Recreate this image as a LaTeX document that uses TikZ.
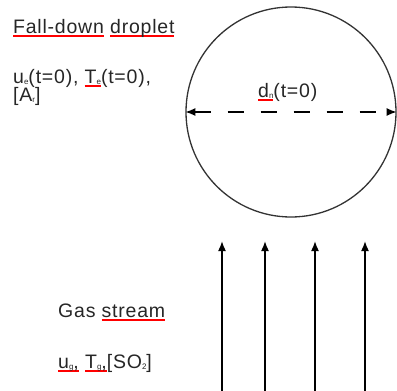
\documentclass[tikz,border=0pt]{standalone}
\usepackage{fontspec}
\setmainfont{Liberation Sans}[LetterSpace=4]
\usetikzlibrary{arrows.meta}
\newcommand\rul[1]{\setbox0\hbox{#1}\rlap{{\color{red}\rule[-3.5pt]{\wd0}{1.3pt}}}\box0\relax}
\newcommand\sbs[1]{\raisebox{-1.5pt}{\fontsize{8}{9}\selectfont #1}}
\begin{document}
\begin{tikzpicture}[x=1pt,y=-1pt,
  lbl/.style={anchor=base west,inner sep=0pt,font=\fontsize{19.5}{22}\selectfont,text=black!85},
  flow/.style={line width=1.6pt,-{Latex[length=10pt,width=8pt]}}]
\useasboundingbox (0,0) rectangle (397,391);
\node[circle,draw=black!80,line width=1.3pt,minimum size=210pt,inner sep=0pt] (drop) at (291,112) {};
\draw[line width=1.5pt,dash pattern=on 16pt off 17pt,{Latex[length=10pt,width=8pt]}-{Latex[length=10pt,width=8pt]}] (drop.west) -- (drop.east);
\node[lbl] (dn) at (258,97) {\rul{d\sbs{n}}(t=0)};
\node[lbl] (t1) at (13,33) {\rul{Fall-down} \rul{droplet}};
\node[lbl] (t2) at (13,83) {u\sbs{e}(t=0), \rul{T\sbs{e}}(t=0),};
\node[lbl] (t3) at (13,101) {[A\sbs{r}]};
\node[lbl] (t4) at (58,317) {Gas \rul{stream}};
\node[lbl] (t5) at (58,368) {\rul{u\sbs{g},} \rul{T\sbs{g},}[SO\sbs{2}]};
\foreach \x/\n in {222/a,265/b,315/c,365/d}{
  \coordinate (s\n) at (\x,391);
  \coordinate (e\n) at (\x,241);
  \draw[flow] (s\n) -- (e\n);
}
\end{tikzpicture}
\end{document}
